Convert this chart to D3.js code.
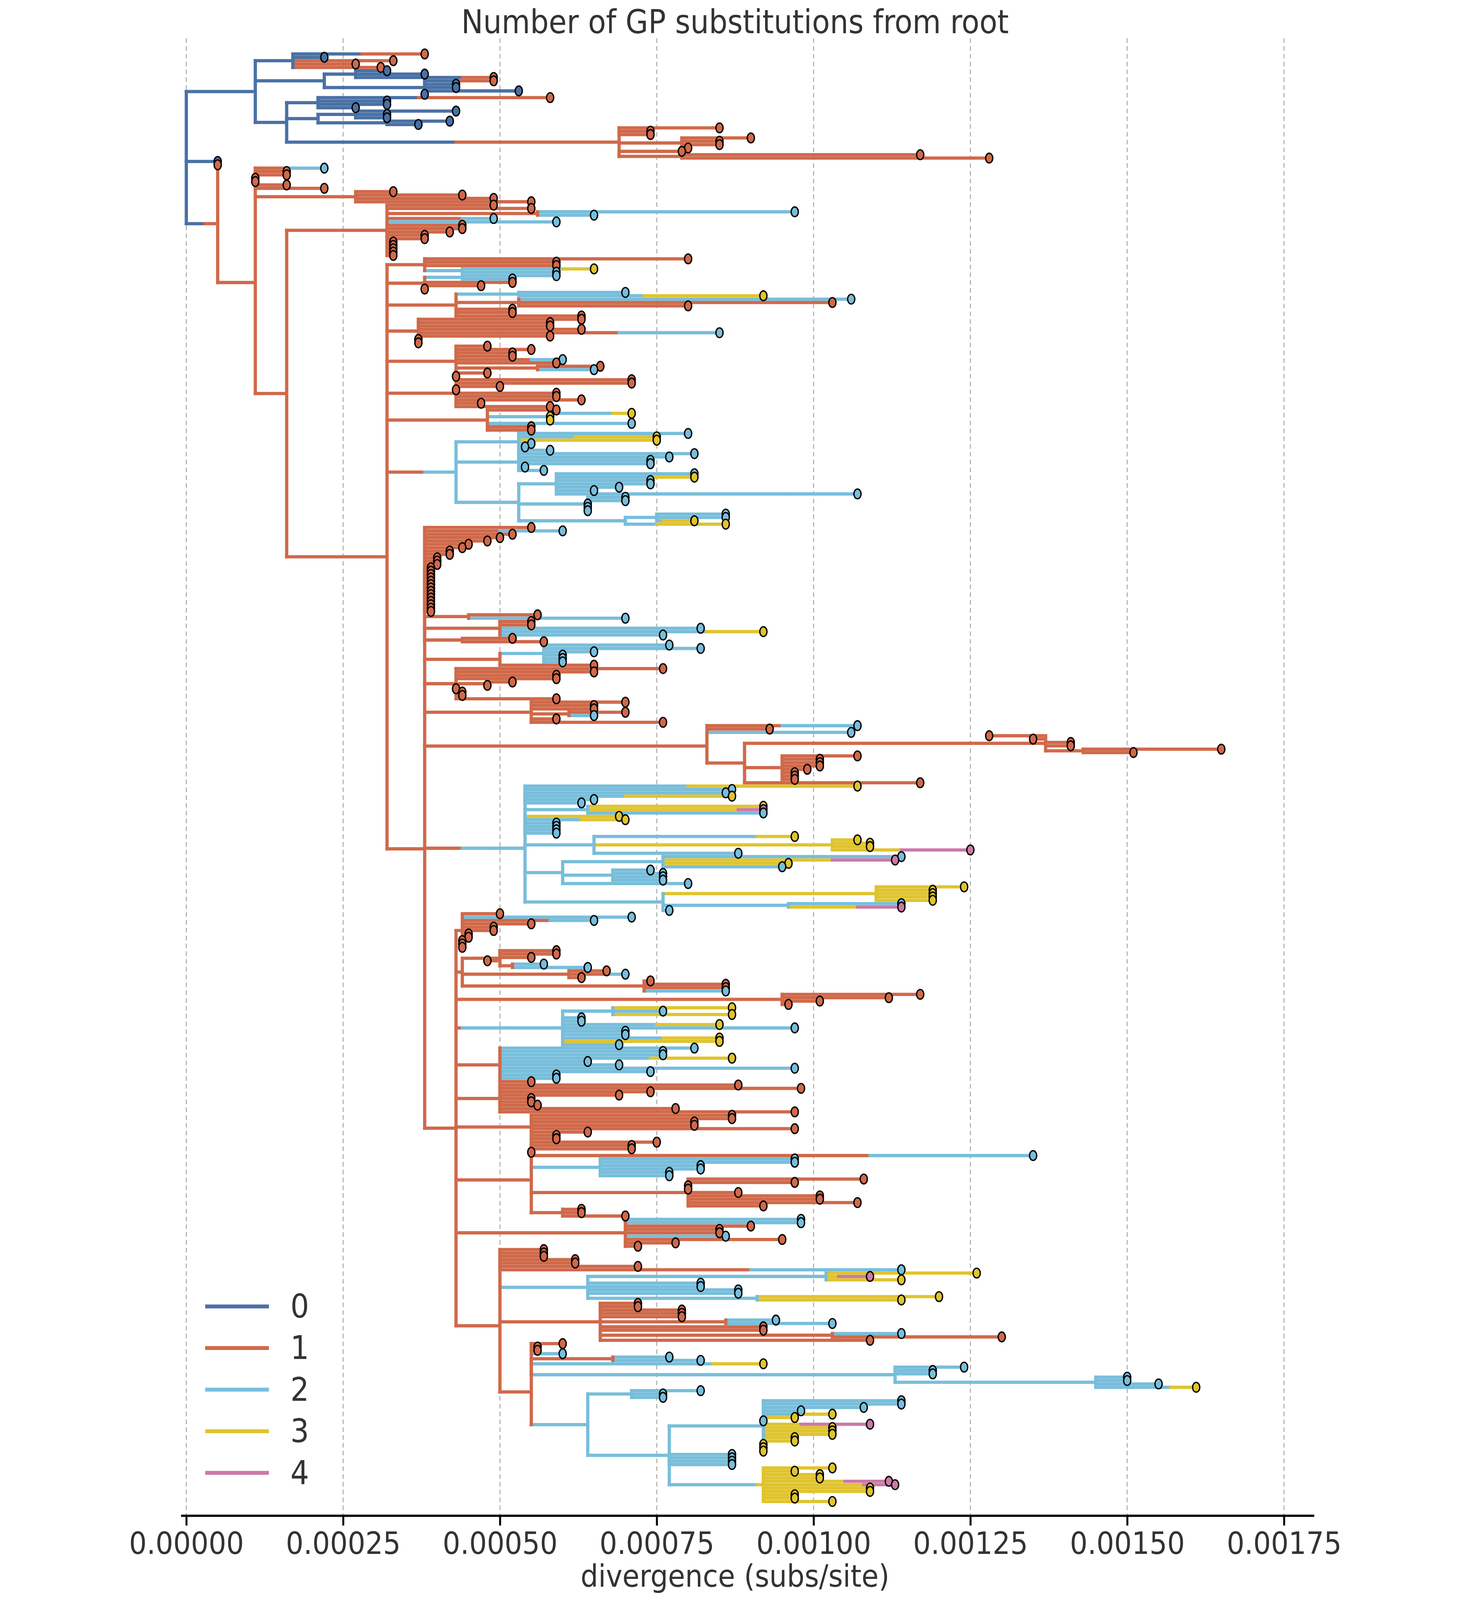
<!DOCTYPE html>
<html>
<head>
<meta charset="utf-8">
<script src="https://cdn.jsdelivr.net/npm/d3@7"></script>
<style>
  html, body { margin: 0; padding: 0; background: #fff; overflow: hidden; }
  svg { display: block; }
  text { font-family: "Liberation Sans Narrow", "DejaVu Sans Condensed", sans-serif; font-weight: 300; fill: #333; }
</style>
</head>
<body>
<svg id="chart" viewBox="0 0 3762 4921" preserveAspectRatio="xMidYMin meet" style="width:100vw;height:100vh"></svg>
<script>
// state colours (number of GP substitutions from root)
var stateLabels = ["0", "1", "2", "3", "4"];
var stateColors = ["#4a71a6", "#d0694a", "#78bedb", "#e0c42e", "#cc79a7"];
// x ticks, in units of 1e-5 subs/site
var tickValues = [0, 25, 50, 75, 100, 125, 150, 175];

// tree pieces: label = state@divergence(1e-5), "*n" = n identical tips
var BLUE = "(((1@38)0@28,0@22,(1@33)1@28,1@27,(1@31)0@17)0@17," +
  "((0@32,0@38,(1@49)0@44)0@27,((1@49)0@43,0@43*2,(0@53)0@48,0@38)0@38)0@22," +
  "(((1@58)0@37,0@32*2,0@27)0@21,((0@43,0@32*2)0@27,(0@42,0@37)0@32)0@21," +
  "((1@85,1@74*2,(1@90,1@85*2,1@80)1@79,1@79,(1@117,1@128)1@79)1@69)0@43)0@16)0@11";
var D = "(1@49,1@55,(2@97,2@65)1@56,(2@49)1@44,2@59,1@44*2,1@42,1@38*2,1@33*5)1@32";
var E1 = "(1@80,1@59*2,((3@65)2@60,2@59)2@44)1@38";
var E2 = "((2@59,2@52)2@44,1@52,1@47,1@38)1@38";
var E3 = "((2@70,(3@92)2@73)2@53,((2@106)2@90,1@103,1@80)1@53,1@52*2,1@63)1@43";
var E4 = "(1@63,1@58*2,1@63,(2@85)1@69,1@58,1@37*2)1@37";
var E5 = "(1@48,1@55,1@52*2,(2@60)1@55,1@59,(1@66,2@65)1@56,1@48,1@43)1@43";
var E6 = "(1@71*2,1@50,1@43,1@59*2,1@63,1@47,1@58)1@43";
var E7 = "(1@59,((3@71)2@68,3@58*2)2@58,(2@71)2@59,1@55*2)1@48";
var E8 = "((((2@80,(3@75)2@62,3@75,2@55,2@54,2@58)2@53,(2@81,2@77,2@74*2,2@54,2@57)2@53," +
  "((2@81,(3@81)2@74,2@74*2,2@69,2@65,(2@107)2@96)2@59,(2@70*2,2@64*3)2@64," +
  "((2@86*2,(3@81)2@76)2@75,(3@86)2@75)2@70)2@53)2@43)1@38)1@38";
var F1 = "(1@55,(2@60)1@50,1@52,1@50,1@48,1@45,1@44,1@42*2,1@40*3,1@39*14)1@38";
var F2 = "((1@56,2@70)1@45,(1@55*2,2@82,(3@92)2@83,2@76)1@50,(1@52,1@57)1@44)1@38";
var F3 = "((2@77,2@82,2@65,2@60*3)2@57,1@65)1@50";
var F4 = "((1@76)1@55,1@65,1@59*2,(1@52,1@48)1@48,1@43,1@44*2,1@59)1@43";
var F5 = "(1@70,1@65*2,(1@70,2@65)1@61,1@59,1@76)1@55";
var F6 = "(((2@107)1@95,1@93,2@106)1@83,(((1@128,1@135,1@141*2,(1@165,1@151)1@143)1@137)1@123," +
  "(1@107,1@101*3,1@99,1@97*3)1@95,1@117)1@89)1@83";
var F7 = "(((((3@107)2@80,2@87,2@86,(3@87)2@70,2@65,2@63)2@54," +
  "((3@92,(4@92)3@88,2@92)2@64,3@69,(3@70)2@63,2@59*4)2@54," +
  "((3@97)2@91,(3@107,3@109*2,(4@125)3@114)3@103,2@88)2@65," +
  "((2@114,(4@113)3@103,3@96,2@95)2@76,(2@74,2@76*3)2@68,2@80)2@60," +
  "((3@124,3@119*4)3@110,(2@114,(4@114)3@107)2@96,2@77)2@76)2@54)2@49)1@44";
var G1 = "(1@50,2@71,(2@65)1@58,1@55,1@49*2,1@45*2,1@44*3)1@44";
var G2 = "((1@59*2,1@55,1@48,(2@57,2@64)1@52)1@50,(1@67,(2@70)1@67,1@63)1@61,(1@74,1@86*2,(2@86)1@73)1@73)1@44";
var G3 = "((1@117,1@112,1@101,1@96)1@95)1@44";
var G4 = "((((3@87,2@76,3@87)2@68,2@63*2,(3@85)2@75,2@97,2@70*2,(3@85)2@76,3@85,2@69)2@60)2@52)1@44";
var G5 = "((2@81,2@76*2,(3@87)2@74,2@64,2@69,2@97,2@74,2@59*2,1@55)1@50)1@44";
var G6 = "((1@88,1@98,1@74,1@69,1@55*2,1@56,1@78,1@97)1@50)1@44";
var G7 = "((1@87*2,1@81*2,1@97,1@64,1@59*2)1@55)1@44";
var G8 = "(((1@75,1@71*2,1@55)1@55,(2@135)1@109,(2@97*2,2@82*2,2@77*2)2@66," +
  "(1@108,1@97,1@80*2,1@88,1@101*2,1@107,1@92)1@80,(1@63*2,1@70)1@60)1@55)1@44";
var G9 = "((2@98*2,1@90,1@85*2,2@86,1@95,1@78,1@72)1@70)1@44";
var H1 = "(1@57*3,1@62*2,1@72,(2@114)1@90)1@50";
var H2 = "(((3@126,(4@109)3@104,3@114)2@102,2@82*2,2@88*2,(3@120,3@114)2@91)2@64)1@50";
var H3 = "((1@72*2,1@79*3,(2@94,2@103)1@86,1@92*2,(2@114,1@130)1@103,1@109)1@66)1@50";
var H4 = "(1@60,1@56*2,2@60,(2@77,2@82)1@68,(3@92)2@84,((2@124,2@119*2,(2@150*2,2@155,(3@161)2@157)2@145)2@113)2@92)1@55";
var I = "(((2@82,2@76*2)2@71,((2@114*2,2@108,2@98,(3@103)2@97,(3@97)2@93,2@92,(4@109)3@98,3@103*3,3@97*2,3@92*3)2@92," +
  "2@87*4,((3@103,3@97,3@101*2,(4@112)3@105,(4@113)3@108,3@109*2,3@97*2,3@103)3@92)2@91)2@77)2@64)1@55";

var H = "(" + [H1, H2, H3, "(" + H4 + "," + I + ")1@55"].join(",") + ")1@50";
var G = "(" + [G1, G2, G3, G4, G5, G6, G7, G8, G9, H].join(",") + ")1@43";
var F = "(" + [F1, F2, F3, F4, F5, F6, F7, G].join(",") + ")1@38";
var E = "(" + [E1, E2, E3, E4, E5, E6, E7, E8, F].join(",") + ")1@32";
var B = "(((2@22)1@16,1@16*2)1@11,1@11*2,1@16,1@22,((1@33,1@44,1@49,1@55)1@27)1@16,(" + D + "," + E + ")1@16)1@11";
var TREE = "(" + BLUE + ",0@5,((1@5," + B + ")1@5)0@3)0@0";

// parse
function parseTree(s) {
  var i = 0;
  function label(node) {
    var m = /^(\d)@([\d.]+)(\*(\d+))?/.exec(s.slice(i));
    i += m[0].length;
    node.state = +m[1]; node.div = +m[2]; node.rep = m[4] ? +m[4] : 1;
    return node;
  }
  function read() {
    if (s[i] === "(") {
      i++;
      var kids = [read()];
      while (s[i] === ",") { i++; kids.push(read()); }
      i++; // ")"
      return label({ children: kids });
    }
    return label({});
  }
  return read();
}
var root = parseTree(TREE);

// expand repeated tips into siblings
function expand(node) {
  if (!node.children) return;
  var out = [];
  node.children.forEach(function (c) {
    expand(c);
    if (!c.children && c.rep > 1) {
      for (var k = 0; k < c.rep; k++) out.push({ state: c.state, div: c.div, rep: 1 });
    } else out.push(c);
  });
  node.children = out;
}
expand(root);

var h = d3.hierarchy(root);
var leaves = h.leaves();
leaves.forEach(function (d, k) { d.row = k; });
h.eachAfter(function (d) {
  if (d.children) d.row = (d.children[0].row + d.children[d.children.length - 1].row) / 2;
});

var svg = d3.select("#chart");
var x = d3.scaleLinear().domain([0, 175]).range([194, 3569]);
var y = d3.scaleLinear().domain([0, leaves.length - 1]).range([166, 4618]);
var axisY = 4662;

// grid
svg.append("g").selectAll("line").data(tickValues).join("line")
  .attr("x1", d => x(d)).attr("x2", d => x(d))
  .attr("y1", 118).attr("y2", axisY)
  .attr("stroke", "#aaa").attr("stroke-width", 3).attr("stroke-dasharray", "14,10");

var g = svg.append("g");
var links = h.descendants().filter(d => d.parent);
// horizontal segments
g.selectAll("line.h").data(links).join("line")
  .attr("x1", d => x(d.parent.data.div) - 5).attr("x2", d => x(d.data.div))
  .attr("y1", d => y(d.row)).attr("y2", d => y(d.row))
  .attr("stroke", d => stateColors[d.data.state]).attr("stroke-width", 10);
// vertical connectors
g.selectAll("line.v").data(h.descendants().filter(d => d.children && d.children.length > 1)).join("line")
  .attr("x1", d => x(d.data.div)).attr("x2", d => x(d.data.div))
  .attr("y1", d => y(d.children[0].row) - 5).attr("y2", d => y(d.children[d.children.length - 1].row) + 5)
  .attr("stroke", d => stateColors[d.data.state]).attr("stroke-width", 10);
// tips
g.selectAll("ellipse").data(leaves).join("ellipse")
  .attr("cx", d => x(d.data.div)).attr("cy", d => y(d.row))
  .attr("rx", 11).attr("ry", 15)
  .attr("fill", d => stateColors[d.data.state])
  .attr("stroke", "#000").attr("stroke-width", 4);

// axis
var axis = d3.axisBottom(x).tickValues(tickValues).tickSize(30).tickPadding(20)
  .tickFormat(d => (d * 1e-5).toFixed(5));
var ax = svg.append("g").attr("transform", "translate(0," + axisY + ")").call(axis);
ax.select(".domain").remove();
ax.selectAll(".tick line").attr("stroke", "#000").attr("stroke-width", 6);
ax.selectAll(".tick text").attr("font-size", 95).style("fill", "#333");
svg.append("line").attr("x1", 178).attr("x2", 3662).attr("y1", axisY).attr("y2", axisY)
  .attr("stroke", "#000").attr("stroke-width", 7);

svg.append("text").attr("x", 1881).attr("y", 4880).attr("text-anchor", "middle")
  .attr("font-size", 95).text("divergence (subs/site)");
svg.append("text").attr("x", 1881).attr("y", 102).attr("text-anchor", "middle")
  .attr("font-size", 100).text("Number of GP substitutions from root");

// legend
var leg = svg.append("g").selectAll("g").data(stateLabels).join("g")
  .attr("transform", (d, k) => "translate(252," + (4018 + k * 128) + ")");
leg.append("line").attr("x1", 0).attr("x2", 196).attr("stroke", (d, k) => stateColors[k]).attr("stroke-width", 12);
leg.append("text").attr("x", 262).attr("y", 34).attr("font-size", 100).text(d => d);
</script>
</body>
</html>
